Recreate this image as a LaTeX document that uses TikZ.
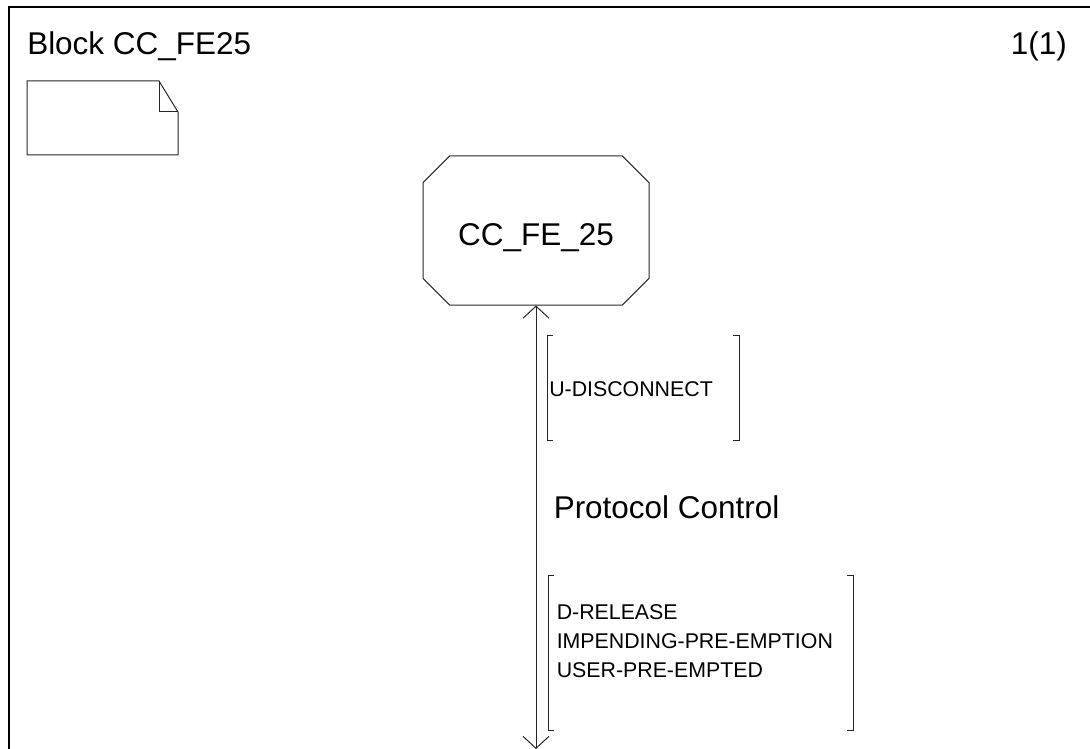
\documentclass[tikz,border=0pt]{standalone}
\usepackage{fontspec}
\setmainfont{Liberation Sans}
\usepackage{tikz}
\usetikzlibrary{arrows.meta,positioning,shapes.misc}
\tikzset{
  frameline/.style={draw=black,line width=1.3pt},
  thin/.style={draw=black!85,line width=0.75pt},
  process/.style={chamfered rectangle,chamfered rectangle xsep=10pt,
    chamfered rectangle ysep=10pt,draw=black!85,line width=0.75pt,
    minimum width=169.5pt,minimum height=111.75pt,inner sep=0pt,
    font=\fontsize{23.6}{28}\selectfont,text height=23pt,text depth=0pt},
  bigtext/.style={inner sep=0pt,font=\fontsize{23.6}{28}\selectfont},
  sigtext/.style={inner sep=0pt,align=left,font=\fontsize{16}{21.4}\selectfont},
  chan/.style={{Straight Barb[length=9pt,width=19.5pt]}-{Straight Barb[length=9pt,width=19.5pt]},
    draw=black!85,line width=0.75pt}
}

\begin{document}
\begin{tikzpicture}[x=0.75pt,y=-0.75pt]
\useasboundingbox (0,0) rectangle (1090,749);
% frame
\draw[frameline] (9,749) -- (9,7) -- (1090,7);
\node[bigtext,anchor=base west] (title) at (27,55) {Block CC\_FE25};
\node[bigtext,anchor=base east] (page) at (1067,55) {1(1)};
% comment symbol
\draw[thin] (27,81) -- (159,81) -- (178,112) -- (178,155) -- (27,155) -- cycle;
\draw[thin] (159,81) -- (159,112) -- (178,112);
% process and channel
\node[process] (cc) at (536,230.5) {CC\_FE\_25};
\coordinate (env) at (536,749);
\draw[chan] (cc.south) -- (env);
\node[bigtext,anchor=base west] (chname) at (553.5,518) {Protocol Control};
% signal lists
\node[sigtext,anchor=base west] (sigin) at (549,396) {U-DISCONNECT};
\draw[thin] (553,335) -- (547,335) -- (547,440) -- (553,440);
\draw[thin] (733,335) -- (739,335) -- (739,440) -- (733,440);
\node[sigtext,anchor=base west] (sigout) at (556.5,677)
  {D-RELEASE\\IMPENDING-PRE-EMPTION\\USER-PRE-EMPTED};
\draw[thin] (554,575) -- (548,575) -- (548,730) -- (554,730);
\draw[thin] (847,575) -- (853,575) -- (853,730) -- (847,730);
\end{tikzpicture}
\end{document}
